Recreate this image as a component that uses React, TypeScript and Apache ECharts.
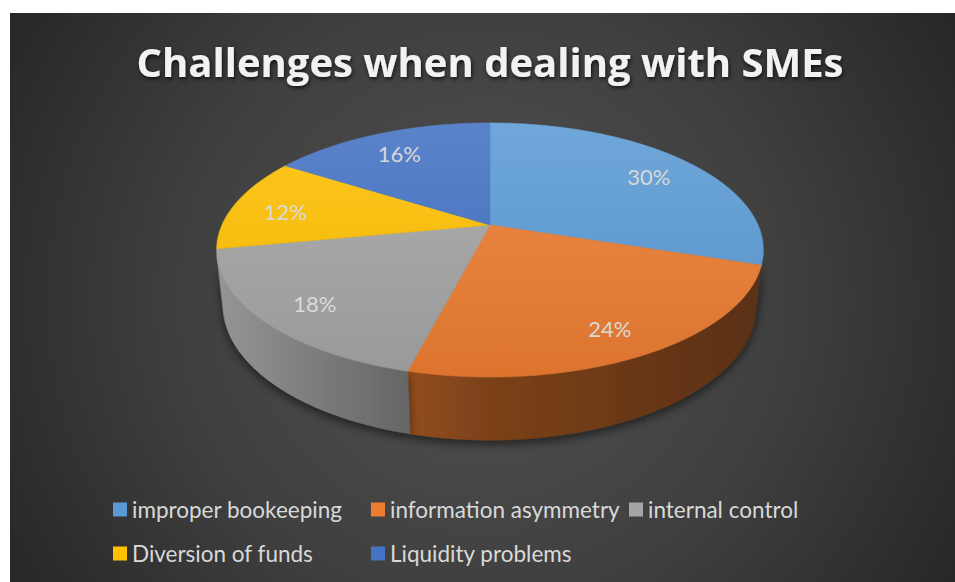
import { useEffect, useRef } from 'react';
import * as echarts from 'echarts';

const titleText = 'Challenges when dealing with SMEs';
const categories = ['improper bookeeping', 'information asymmetry', 'internal control', 'Diversion of funds', 'Liquidity problems'];
const values = [30, 24, 18, 12, 16];
const colors = ['#5B9BD5', '#ED7D31', '#A5A5A5', '#FFC000', '#4472C4'];

// 3D projection parameters (camera tilt & perspective)
const CX = 490, CY = 225, A = 268, D = 4.52, SINP = 0.4556, COSP = 0.89, T = 0.233;

function proj(x: number, y: number, z: number): number[] {
  const w = 1 - (y * SINP + z * COSP) / D;
  return [CX + (A * x) / w, CY - (A * (y * COSP - z * SINP)) / w];
}
function rim(theta: number, y: number, r = 1): number[] {
  return proj(r * Math.sin(theta), y, -r * Math.cos(theta));
}
function shade(hex: string, f: number): string {
  const n = parseInt(hex.slice(1), 16);
  const r = n >> 16, g = (n >> 8) & 255, b = n & 255;
  const m = (c: number) => (f <= 1 ? Math.round(c * f) : Math.round(c + (255 - c) * (f - 1)));
  return `rgb(${m(r)},${m(g)},${m(b)})`;
}
function arc(a0: number, a1: number, y: number): number[][] {
  const n = Math.max(2, Math.ceil((a1 - a0) / 0.008));
  const pts: number[][] = [];
  for (let k = 0; k <= n; k++) pts.push(rim(a0 + ((a1 - a0) * k) / n, y));
  return pts;
}

export default function App() {
  const ref = useRef<HTMLDivElement>(null);
  useEffect(() => {
    document.body.style.margin = '0';
    const chart = echarts.init(ref.current!, null, { renderer: 'svg' });
    const total = values.reduce((s, v) => s + v, 0);
    const tan = Math.acos(-1 / (D * COSP));
    const visStart = tan, visEnd = 2 * Math.PI - tan;

    const renderItem = (params: any, api: any) => {
      const i = params.seriesIndex;
      const v = api.value(0);
      const before = values.slice(0, i).reduce((s, x) => s + x, 0);
      const a0 = (before / total) * Math.PI * 2;
      const a1 = a0 + (v / total) * Math.PI * 2;
      const c = colors[i];
      const children: any[] = [];
      const b0 = Math.max(a0, visStart), b1 = Math.min(a1, visEnd);
      if (b1 > b0) {
        const top = arc(b0, b1, 0);
        const bot = arc(b0, b1, -T).reverse();
        const sideFill = {
          type: 'linear', x: 217, y: 0, x2: 763, y2: 0, global: true,
          colorStops: [
            { offset: 0, color: shade(c, 0.9) },
            { offset: 0.33, color: shade(c, 0.63) },
            { offset: 0.5, color: shade(c, 0.52) },
            { offset: 1, color: shade(c, 0.38) },
          ],
        };
        children.push({
          type: 'polygon', z2: 1,
          shape: { points: top.concat(bot) },
          style: { fill: sideFill, stroke: sideFill, lineWidth: 0.6, shadowBlur: 10, shadowOffsetY: 4, shadowColor: 'rgba(0,0,0,0.55)' },
        });
      }
      const topFill = {
        type: 'linear', x: 0, y: 123, x2: 0, y2: 377, global: true,
        colorStops: [
          { offset: 0, color: shade(c, 1.12) },
          { offset: 1, color: shade(c, 0.93) },
        ],
      };
      children.push({
        type: 'polygon', z2: 10,
        shape: { points: [[CX, CY]].concat(arc(a0, a1, 0)) },
        style: { fill: topFill, stroke: topFill, lineWidth: 0.6 },
      });
      const mid = (a0 + a1) / 2;
      const lp = rim(mid, 0, 0.8);
      children.push({
        type: 'text', z2: 30, x: lp[0], y: lp[1] + 4,
        style: {
          text: Math.round((v / total) * 100) + '%',
          fill: '#d9d9d9', fontSize: 22, fontFamily: 'Lato',
          align: 'center', verticalAlign: 'middle',
        },
      });
      return { type: 'group', children };
    };

    chart.setOption({
      animation: false,
      backgroundColor: '#ffffff',
      graphic: [
        {
          type: 'rect', z: -10, silent: true,
          shape: { x: 10, y: 13, width: 945, height: 569 },
          style: {
            fill: {
              type: 'radial', x: 482, y: 300, r: 560, global: true,
              colorStops: [
                { offset: 0, color: '#525252' },
                { offset: 0.55, color: '#3f3f3f' },
                { offset: 1, color: '#262626' },
              ],
            },
          },
        },
        {
          type: 'text', z: 5, x: 490, y: 61,
          style: {
            text: titleText, fill: '#f2f2f2', font: 'bold 40px "Open Sans"',
            align: 'center', verticalAlign: 'middle',
            textShadowColor: 'rgba(0,0,0,0.75)', textShadowBlur: 4, textShadowOffsetX: 1, textShadowOffsetY: 2,
          },
        },
      ],
      legend: {
        left: 113, top: 491, width: 775, padding: 0,
        itemWidth: 14, itemHeight: 14, itemGap: 7, icon: 'rect', selectedMode: false,
        textStyle: { color: '#d9d9d9', fontSize: 22.5, fontFamily: 'Lato', width: 232, lineHeight: 37 },
        data: categories,
      },
      series: categories.map((name, i) => ({
        type: 'custom', name, coordinateSystem: 'none',
        itemStyle: { color: colors[i] },
        data: [[values[i]]],
        renderItem,
      })),
    });
    return () => chart.dispose();
  }, []);
  return <div ref={ref} style={{ width: 955, height: 582 }} />;
}
